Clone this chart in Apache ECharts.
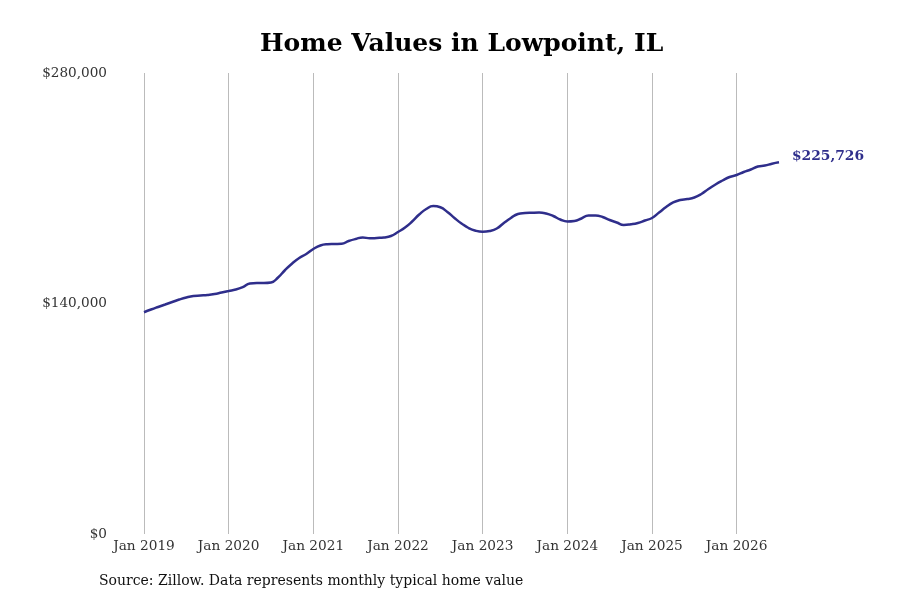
<!DOCTYPE html>
<html>
<head>
<meta charset="utf-8">
<script src="https://cdn.jsdelivr.net/npm/echarts@6/dist/echarts.min.js"></script>
<style>html,body{margin:0;padding:0;background:#fff}#c{width:900px;height:600px}</style>
</head>
<body>
<div id="c"></div>
<script>
const years = [2019, 2020, 2021, 2022, 2023, 2024, 2025, 2026];
const monthNames = ['Jan','Feb','Mar','Apr','May','Jun','Jul','Aug','Sep','Oct','Nov','Dec'];
const yTicks = [0, 140000, 280000];
const values = [
  134700, 136350, 137900, 139400, 140900, 142400, 143650, 144550, 144850, 145150, 145750, 146700,
  147600, 148500, 150000, 152150, 152450, 152450, 152750, 155800, 160350, 164300, 167650, 170050,
  173100, 175250, 176000, 176150, 176300, 177950, 179200, 180100, 179600, 179800, 180100, 181000,
  183450, 186150, 189800, 194050, 197400, 199200, 198450, 195600, 191950, 188600, 185850, 184200,
  183600, 184050, 185550, 188900, 191950, 194350, 194950, 195150, 195250, 194650, 193150, 191000,
  189800, 190100, 191650, 193450, 193450, 192550, 190700, 189200, 187700, 188100, 188900, 190400,
  191950, 195250, 198600, 201350, 202850, 203450, 204400, 206500, 209550, 212300, 214700, 216850,
  218050, 219850, 221400, 223200, 223800, 224900, 225726
];
const categories = values.map((v, i) => monthNames[i % 12] + ' ' + years[Math.floor(i / 12)]);
const lineColor = '#2f2e8b';
const font = 'DejaVu Serif';

const chart = echarts.init(document.getElementById('c'));
chart.setOption({
  animation: false,
  title: {
    text: 'Home Values in Lowpoint, IL',
    left: 255,
    top: 27,
    textStyle: { fontFamily: font, fontSize: 25, fontWeight: 'bold', color: '#000' }
  },
  grid: { left: 144, right: 121, top: 73, bottom: 66 },
  xAxis: {
    type: 'category',
    data: categories,
    boundaryGap: false,
    axisLine: { show: false },
    axisTick: { show: false },
    axisLabel: {
      interval: 11,
      margin: 5,
      fontFamily: font,
      fontSize: 13.7,
      color: '#333'
    },
    splitLine: { show: true, interval: 11, lineStyle: { color: '#bbbbbb', width: 1 } }
  },
  yAxis: {
    type: 'value',
    min: 0,
    max: yTicks[2],
    interval: yTicks[1],
    axisLine: { show: false },
    axisTick: { show: false },
    splitLine: { show: false },
    axisLabel: {
      margin: 37,
      fontFamily: font,
      fontSize: 13.6,
      color: '#333',
      formatter: v => '$' + v.toLocaleString('en-US')
    }
  },
  series: [{
    type: 'line',
    data: values,
    smooth: true,
    showSymbol: false,
    lineStyle: { color: lineColor, width: 2.5 },
    itemStyle: { color: lineColor },
    endLabel: {
      show: true,
      distance: 13,
      offset: [0, -6],
      fontFamily: font,
      fontSize: 13.8,
      fontWeight: 'bold',
      color: lineColor,
      formatter: p => '$' + p.value.toLocaleString('en-US')
    }
  }],
  graphic: [{
    type: 'text',
    left: 99,
    top: 574,
    style: {
      text: 'Source: Zillow. Data represents monthly typical home value',
      fontFamily: font,
      fontSize: 14,
      fill: '#111'
    }
  }]
});
</script>
</body>
</html>
